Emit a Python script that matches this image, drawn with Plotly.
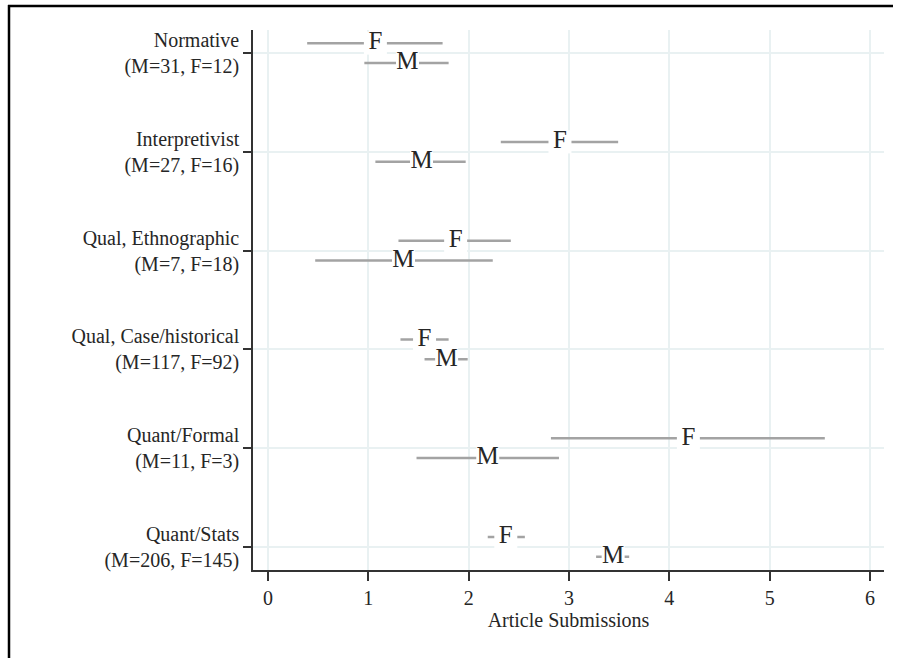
import plotly.graph_objects as go

# ---- data ----
labels = ["Normative", "Interpretivist", "Qual, Ethnographic",
          "Qual, Case/historical", "Quant/Formal", "Quant/Stats"]
n_m = [31, 27, 7, 117, 11, 206]
n_f = [12, 16, 18, 92, 3, 145]

f_mean = [1.07, 2.91, 1.87, 1.56, 4.19, 2.37]
f_lo = [0.39, 2.32, 1.30, 1.32, 2.82, 2.19]
f_hi = [1.74, 3.49, 2.42, 1.80, 5.55, 2.56]

m_mean = [1.39, 1.53, 1.35, 1.78, 2.19, 3.44]
m_lo = [0.96, 1.07, 0.47, 1.56, 1.48, 3.27]
m_hi = [1.80, 1.97, 2.24, 1.99, 2.90, 3.60]

x_ticks = [0, 1, 2, 3, 4, 5, 6]
x_title = "Article Submissions"

# ---- styling ----
FONT = "Liberation Serif"
TXT = "#262626"
CI_COL = "#a3a3a3"
GRID = "#e9f1f2"
OFFSET = 0.1

n = len(labels)
ypos = [n - 1 - i for i in range(n)]
ticktext = [f"{lab}<br>(M={m}, F={f})" for lab, m, f in zip(labels, n_m, n_f)]

def seg(lo, hi, ys):
    xs, yy = [], []
    for a, b, y in zip(lo, hi, ys):
        xs += [a, b, None]
        yy += [y, y, None]
    return xs, yy

yf = [y + OFFSET for y in ypos]
ym = [y - OFFSET for y in ypos]

fig = go.Figure()
for lo, hi, ys in [(f_lo, f_hi, yf), (m_lo, m_hi, ym)]:
    xs, yy = seg(lo, hi, ys)
    fig.add_trace(go.Scatter(x=xs, y=yy, mode="lines",
                             line=dict(color=CI_COL, width=2.5),
                             hoverinfo="skip", showlegend=False))

for means, ys, letter in [(f_mean, yf, "F"), (m_mean, ym, "M")]:
    fig.add_trace(go.Scatter(
        x=means, y=ys, mode="markers+text",
        text=[letter] * n, textposition="middle center",
        textfont=dict(family=FONT, size=25, color=TXT),
        marker=dict(symbol="square", size=23, color="white",
                    line=dict(width=0)),
        showlegend=False, hoverinfo="skip"))

# page frame (top and left edges only are visible in the crop)
PW, PH = 631, 540   # plot-area size in px
def px_x(p):
    return (p - 253) / PW
def px_y(p):
    return (570 - p) / PH

frame = dict(type="line", xref="paper", yref="paper",
             line=dict(color="black", width=2.5), layer="above")

fig.update_layout(
    width=897, height=658,
    margin=dict(l=253, r=13, t=30, b=88),
    paper_bgcolor="white", plot_bgcolor="white",
    font=dict(family=FONT, size=20, color=TXT),
    xaxis=dict(range=[-0.15, 6.14], tickvals=x_ticks,
               showgrid=True, gridcolor=GRID, gridwidth=2,
               zeroline=False, showline=True, linecolor="#333333",
               linewidth=1.5, ticks="outside", ticklen=9, tickwidth=1.5,
               tickcolor="#333333",
               tickfont=dict(family=FONT, size=20, color=TXT),
               title=dict(text=x_title, standoff=2,
                          font=dict(family=FONT, size=20, color=TXT))),
    yaxis=dict(range=[-0.233, 5.233], tickvals=ypos, ticktext=ticktext,
               showgrid=True, gridcolor=GRID, gridwidth=2,
               zeroline=False, showline=True, linecolor="#333333",
               linewidth=1.5, ticks="outside", ticklen=8, tickwidth=1.5,
               tickcolor="#333333",
               tickfont=dict(family=FONT, size=20, color=TXT)),
    shapes=[
        dict(frame, x0=px_x(8), x1=px_x(893), y0=px_y(6), y1=px_y(6)),
        dict(frame, x0=px_x(9), x1=px_x(9), y0=px_y(5), y1=px_y(700)),
    ],
)

fig.write_html("out.html", config={"displayModeBar": False})
